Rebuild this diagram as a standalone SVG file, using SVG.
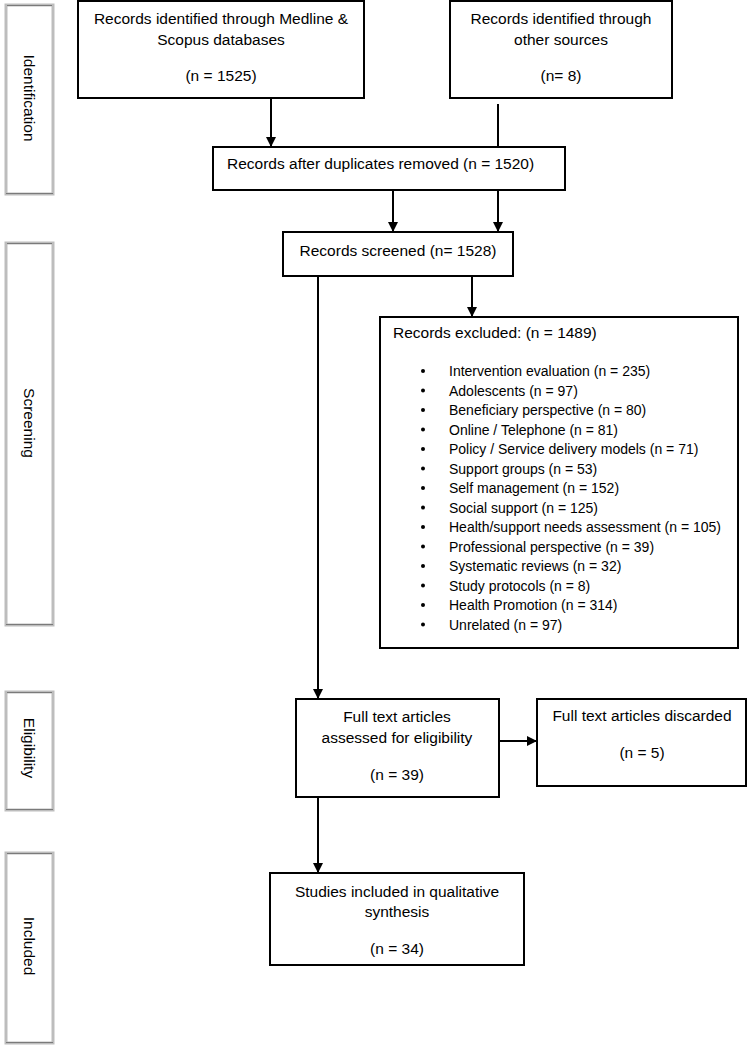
<svg xmlns="http://www.w3.org/2000/svg" width="748" height="1049" viewBox="0 0 748 1049">
<defs>
<style>
.box{fill:#fff;stroke:#000;stroke-width:2}
.side{fill:#fff;stroke:#bdbdbd;stroke-width:3}
.sidein{fill:none;stroke:#7a7a7a;stroke-width:1}
.t{font-family:"Liberation Sans",Arial,sans-serif;font-size:15.5px;fill:#000}
.c{text-anchor:middle}
.li{font-family:"Liberation Sans",Arial,sans-serif;font-size:14px;fill:#000}
.st{font-family:"Liberation Sans",Arial,sans-serif;font-size:15.5px;fill:#000;text-anchor:middle}
.ln{stroke:#000;stroke-width:2;fill:none}
</style>
<marker id="ah" viewBox="0 0 10 10" refX="10" refY="5" markerWidth="5" markerHeight="5" orient="auto" markerUnits="strokeWidth">
<path d="M0,0 L10,5 L0,10 z" fill="#000"/>
</marker>
</defs>
<rect width="748" height="1049" fill="#fff"/>

<g id="side-identification">
<rect class="side" x="6" y="5" width="47" height="189"/>
<line class="sidein" x1="7" y1="5.5" x2="52" y2="5.5"/>
<line class="sidein" x1="6" y1="193.5" x2="53" y2="193.5"/>
<text class="st" transform="translate(24,98) rotate(90)">Identification</text>
</g>
<g id="side-screening">
<rect class="side" x="6" y="243" width="47" height="382"/>
<line class="sidein" x1="7" y1="243.5" x2="52" y2="243.5"/>
<line class="sidein" x1="6" y1="624.5" x2="53" y2="624.5"/>
<text class="st" transform="translate(24,423) rotate(90)">Screening</text>
</g>
<g id="side-eligibility">
<rect class="side" x="6" y="692" width="47" height="118"/>
<line class="sidein" x1="7" y1="692.5" x2="52" y2="692.5"/>
<line class="sidein" x1="6" y1="809.5" x2="53" y2="809.5"/>
<text class="st" transform="translate(24,748) rotate(90)">Eligibility</text>
</g>
<g id="side-included">
<rect class="side" x="6" y="853" width="47" height="190"/>
<line class="sidein" x1="7" y1="853.5" x2="52" y2="853.5"/>
<line class="sidein" x1="6" y1="1042.5" x2="53" y2="1042.5"/>
<text class="st" transform="translate(24,946) rotate(90)">Included</text>
</g>

<g id="connectors">
<line class="ln" x1="271" y1="98" x2="271" y2="147" marker-end="url(#ah)"/>
<line class="ln" x1="498" y1="104" x2="498" y2="147"/>
<line class="ln" x1="393" y1="190" x2="393" y2="232" marker-end="url(#ah)"/>
<line class="ln" x1="498" y1="190" x2="498" y2="232" marker-end="url(#ah)"/>
<line class="ln" x1="318" y1="276" x2="318" y2="699" marker-end="url(#ah)"/>
<line class="ln" x1="472" y1="276" x2="472" y2="317" marker-end="url(#ah)"/>
<line class="ln" x1="499" y1="741" x2="537" y2="741" marker-end="url(#ah)"/>
<line class="ln" x1="318" y1="797" x2="318" y2="873" marker-end="url(#ah)"/>
</g>

<g id="n-medline">
<rect class="box" x="78" y="1" width="286" height="97"/>
<text class="t c" x="221" y="24">Records identified through Medline &amp;</text>
<text class="t c" x="221" y="45">Scopus databases</text>
<text class="t c" x="221" y="81">(n = 1525)</text>
</g>
<g id="n-other">
<rect class="box" x="450" y="1" width="222" height="97"/>
<text class="t c" x="561" y="24">Records identified through</text>
<text class="t c" x="561" y="45">other sources</text>
<text class="t c" x="561" y="81">(n= 8)</text>
</g>
<g id="n-dedup">
<rect class="box" x="213" y="147" width="352" height="43"/>
<text class="t" x="227" y="169">Records after duplicates removed (n = 1520)</text>
</g>
<g id="n-screened">
<rect class="box" x="283" y="232" width="230" height="44"/>
<text class="t c" x="398" y="256">Records screened (n= 1528)</text>
</g>
<g id="n-excluded">
<rect class="box" x="380" y="317" width="358" height="331"/>
<text class="t" x="393" y="338">Records excluded: (n = 1489)</text>
<g fill="#000">
<circle cx="423" cy="371" r="2"/><circle cx="423" cy="390.5" r="2"/><circle cx="423" cy="410" r="2"/><circle cx="423" cy="429.5" r="2"/><circle cx="423" cy="449" r="2"/><circle cx="423" cy="468.5" r="2"/><circle cx="423" cy="488" r="2"/><circle cx="423" cy="507.5" r="2"/><circle cx="423" cy="527" r="2"/><circle cx="423" cy="546.5" r="2"/><circle cx="423" cy="566" r="2"/><circle cx="423" cy="585.5" r="2"/><circle cx="423" cy="605" r="2"/><circle cx="423" cy="624.5" r="2"/>
</g>
<text class="li" x="449" y="376">Intervention evaluation (n = 235)</text>
<text class="li" x="449" y="395.5">Adolescents (n = 97)</text>
<text class="li" x="449" y="415">Beneficiary perspective (n = 80)</text>
<text class="li" x="449" y="434.5">Online / Telephone (n = 81)</text>
<text class="li" x="449" y="454">Policy / Service delivery models (n = 71)</text>
<text class="li" x="449" y="473.5">Support groups (n = 53)</text>
<text class="li" x="449" y="493">Self management (n = 152)</text>
<text class="li" x="449" y="512.5">Social support (n = 125)</text>
<text class="li" x="449" y="532">Health/support needs assessment (n = 105)</text>
<text class="li" x="449" y="551.5">Professional perspective (n = 39)</text>
<text class="li" x="449" y="571">Systematic reviews (n = 32)</text>
<text class="li" x="449" y="590.5">Study protocols (n = 8)</text>
<text class="li" x="449" y="610">Health Promotion (n = 314)</text>
<text class="li" x="449" y="629.5">Unrelated (n = 97)</text>
</g>
<g id="n-fulltext">
<rect class="box" x="296" y="699" width="203" height="98"/>
<text class="t c" x="397" y="722">Full text articles</text>
<text class="t c" x="397" y="743">assessed for eligibility</text>
<text class="t c" x="397" y="780">(n = 39)</text>
</g>
<g id="n-discarded">
<rect class="box" x="537" y="699" width="209" height="87"/>
<text class="t c" x="642" y="721">Full text articles discarded</text>
<text class="t c" x="642" y="758">(n = 5)</text>
</g>
<g id="n-included">
<rect class="box" x="270" y="873" width="254" height="92"/>
<text class="t c" x="397" y="897">Studies included in qualitative</text>
<text class="t c" x="397" y="917">synthesis</text>
<text class="t c" x="397" y="954">(n = 34)</text>
</g>
</svg>
